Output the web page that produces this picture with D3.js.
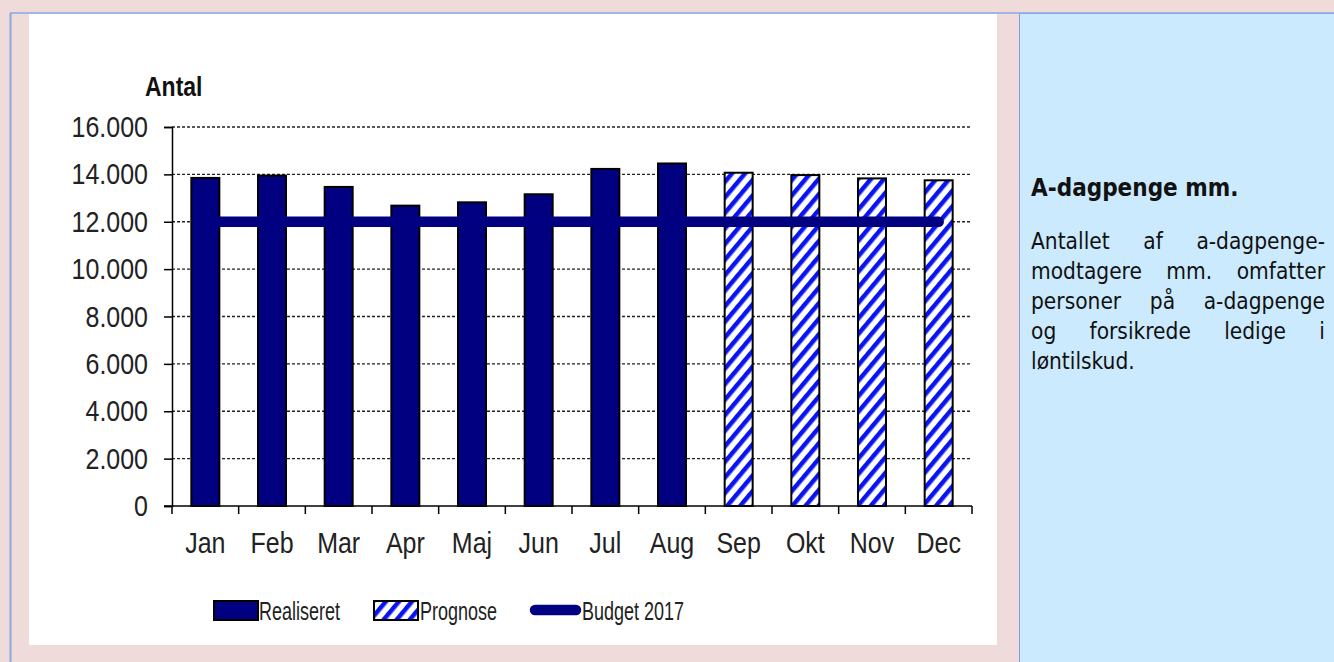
<!DOCTYPE html>
<html>
<head>
<meta charset="utf-8">
<script src="https://cdn.jsdelivr.net/npm/d3@7"></script>
<style>
  body { margin: 0; background: #f0dbdb; }
  #wrap { position: relative; width: 1334px; height: 662px; overflow: hidden; }
  #side {
    position: absolute; left: 1019px; top: 13px; width: 315px; height: 649px;
    background: #cbeafd; border-left: 1px solid #8c9bd8; border-top: 1px solid #8aa8e8;
    box-sizing: border-box; padding: 0 9px 0 11px;
    font-family: "DejaVu Sans Condensed", "DejaVu Sans", sans-serif; color: #111;
  }
  #side h3 { margin: 160px 0 0 0; font-size: 24px; font-weight: bold; line-height: 28px; }
  #side .body { margin-top: 24px; font-size: 22.5px; line-height: 30px; }
  #side .ln { text-align: justify; text-align-last: justify; white-space: nowrap; }
  #side .ln.last { text-align-last: left; }
  .stretch { transform-box: fill-box; transform-origin: center; transform: scaleY(1.18); }
  .stretch2 { transform-box: fill-box; transform-origin: center; transform: scaleY(1.45); }
</style>
</head>
<body>
<div id="wrap">
  <div id="chart"></div>
  <div id="side"></div>
</div>
<script>
"use strict";

// data
let months = ["Jan", "Feb", "Mar", "Apr", "Maj", "Jun", "Jul", "Aug", "Sep", "Okt", "Nov", "Dec"];
let realiseret = [13850, 13950, 13470, 12680, 12820, 13160, 14230, 14460, null, null, null, null];
let prognose = [null, null, null, null, null, null, null, null, 14070, 13970, 13830, 13750];
let budget = [12000, 12000, 12000, 12000, 12000, 12000, 12000, 12000, 12000, 12000, 12000, 12000];
let yTicks = [0, 2000, 4000, 6000, 8000, 10000, 12000, 14000, 16000];
let sideTitle = "A-dagpenge mm.";
let sideLines = ["Antallet af a-dagpenge-", "modtagere mm. omfatter", "personer på a-dagpenge", "og forsikrede ledige i", "løntilskud."];

let width = 1334;
let height = 662;
let navy = "#000080";
let font = "Arial, 'Liberation Sans', sans-serif";

let svg = d3.select("#chart")
  .append("svg")
  .attr("width", width)
  .attr("height", height)
  .style("position", "absolute")
  .style("left", 0)
  .style("top", 0);

// frame
svg.append("line").attr("x1", 10.5).attr("x2", 10.5).attr("y1", 13).attr("y2", height)
  .attr("stroke", "#8aa8e8").attr("stroke-width", 2);
svg.append("line").attr("x1", 10).attr("x2", width).attr("y1", 13).attr("y2", 13)
  .attr("stroke", "#8aa8e8").attr("stroke-width", 1.5);
svg.append("rect").attr("x", 29).attr("y", 14).attr("width", 968).attr("height", 631)
  .attr("fill", "#ffffff");

// hatch pattern
let defs = svg.append("defs");
let pat = defs.append("pattern")
  .attr("id", "hatch")
  .attr("patternUnits", "userSpaceOnUse")
  .attr("width", 10).attr("height", 10)
  .attr("patternTransform", "rotate(40)");
pat.append("rect").attr("width", 10).attr("height", 10).attr("fill", "#ffffff");
pat.append("rect").attr("width", 4.5).attr("height", 10).attr("fill", "#0a14f0");

// scales
let x = d3.scaleBand()
  .domain(months)
  .range([172, 972])
  .paddingInner(0.58)
  .paddingOuter(0.29);

let band = d3.scaleBand().domain(months).range([172, 972]);

let y = d3.scaleLinear()
  .domain([0, 16000])
  .range([506, 127]);

// grid
svg.append("g")
  .selectAll("line")
  .data(yTicks.filter(d => d > 0))
  .join("line")
  .attr("x1", 172).attr("x2", 972)
  .attr("y1", d => y(d)).attr("y2", d => y(d))
  .attr("stroke", "#222").attr("stroke-width", 1.3)
  .attr("stroke-dasharray", "3,2");

// bars
svg.append("g")
  .selectAll("rect")
  .data(months.map((m, i) => ({ m: m, v: realiseret[i] })).filter(d => d.v != null))
  .join("rect")
  .attr("x", d => x(d.m))
  .attr("y", d => y(d.v))
  .attr("width", x.bandwidth())
  .attr("height", d => y(0) - y(d.v))
  .attr("fill", navy)
  .attr("stroke", "#000")
  .attr("stroke-width", 2);

svg.append("g")
  .selectAll("rect")
  .data(months.map((m, i) => ({ m: m, v: prognose[i] })).filter(d => d.v != null))
  .join("rect")
  .attr("x", d => x(d.m))
  .attr("y", d => y(d.v))
  .attr("width", x.bandwidth())
  .attr("height", d => y(0) - y(d.v))
  .attr("fill", "url(#hatch)")
  .attr("stroke", "#000")
  .attr("stroke-width", 2);

// budget line
let line = d3.line()
  .x((d, i) => x(months[i]) + x.bandwidth() / 2)
  .y(d => y(d));

svg.append("path")
  .datum(budget)
  .attr("d", line)
  .attr("fill", "none")
  .attr("stroke", navy)
  .attr("stroke-width", 10.5)
  .attr("stroke-linecap", "round");

// axes
let yAxis = svg.append("g")
  .attr("transform", "translate(172,0)")
  .call(d3.axisLeft(y).tickValues(yTicks).tickSize(8).tickPadding(16)
    .tickFormat(d => d3.format(",")(d).replace(/,/g, ".")));
yAxis.selectAll("text")
  .attr("class", "stretch")
  .style("font-family", font)
  .style("font-size", "25px")
  .attr("fill", "#222");

let xAxis = svg.append("g")
  .attr("transform", "translate(0,506)")
  .call(d3.axisBottom(band).tickSize(0).tickPadding(28));
xAxis.selectAll("text")
  .attr("class", "stretch")
  .style("font-family", font)
  .style("font-size", "25px")
  .attr("fill", "#222");
xAxis.select(".domain").remove();

// x boundary ticks
let bounds = months.map(m => band(m)).concat([972]);
svg.append("g")
  .selectAll("line")
  .data(bounds)
  .join("line")
  .attr("x1", d => d).attr("x2", d => d)
  .attr("y1", 506).attr("y2", 514)
  .attr("stroke", "#000").attr("stroke-width", 1.5);
svg.append("line")
  .attr("x1", 164).attr("x2", 972).attr("y1", 506).attr("y2", 506)
  .attr("stroke", "#000").attr("stroke-width", 1.5);
yAxis.select(".domain").attr("stroke-width", 1.5);
yAxis.selectAll(".tick line").attr("stroke-width", 1.5);

// y title
svg.append("text")
  .attr("class", "stretch")
  .attr("x", 145)
  .attr("y", 95)
  .style("font-family", font)
  .style("font-size", "23px")
  .style("font-weight", "bold")
  .attr("fill", "#111")
  .text("Antal");

// legend
let lg = svg.append("g").style("font-family", font).style("font-size", "18px");
lg.append("rect").attr("x", 214).attr("y", 601).attr("width", 44).attr("height", 19)
  .attr("fill", navy).attr("stroke", "#000").attr("stroke-width", 2);
lg.append("text").attr("class", "stretch2").attr("x", 259).attr("y", 617).attr("fill", "#222")
  .text("Realiseret");
lg.append("rect").attr("x", 374).attr("y", 601).attr("width", 44).attr("height", 19)
  .attr("fill", "url(#hatch)").attr("stroke", "#000").attr("stroke-width", 2);
lg.append("text").attr("class", "stretch2").attr("x", 420).attr("y", 617).attr("fill", "#222")
  .text("Prognose");
lg.append("line").attr("x1", 535).attr("x2", 576).attr("y1", 610).attr("y2", 610)
  .attr("stroke", navy).attr("stroke-width", 10.5).attr("stroke-linecap", "round");
lg.append("text").attr("class", "stretch2").attr("x", 582).attr("y", 617).attr("fill", "#222")
  .text("Budget 2017");

// side panel text
let side = d3.select("#side");
side.append("h3").text(sideTitle);
side.append("div").attr("class", "body")
  .selectAll("div")
  .data(sideLines)
  .join("div")
  .attr("class", (d, i) => i === sideLines.length - 1 ? "ln last" : "ln")
  .text(d => d);
</script>
</body>
</html>
